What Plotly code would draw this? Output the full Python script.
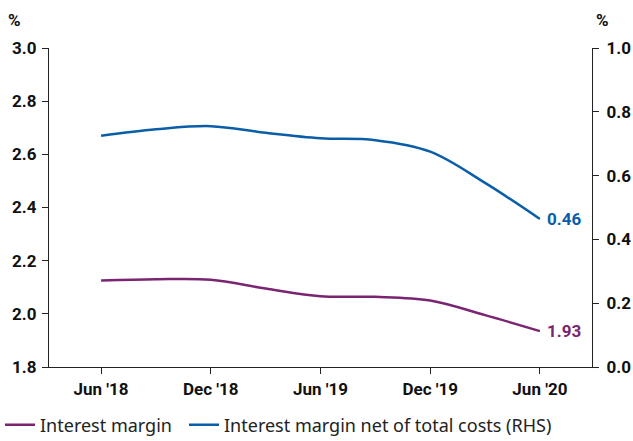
import plotly.graph_objects as go

quarters = ["Jun '18", "Sep '18", "Dec '18", "Mar '19", "Jun '19",
            "Sep '19", "Dec '19", "Mar '20", "Jun '20"]
interest_margin = [2.125, 2.130, 2.128, 2.095, 2.066, 2.064, 2.050, 1.995, 1.935]
margin_net_costs = [0.725, 0.745, 0.755, 0.734, 0.717, 0.711, 0.675, 0.577, 0.464]
series_names = ["Interest margin", "Interest margin net of total costs (RHS)"]
end_labels = ["1.93", "0.46"]
tick_labels = ["Jun '18", "Dec '18", "Jun '19", "Dec '19", "Jun '20"]
left_ticks = [1.8, 2.0, 2.2, 2.4, 2.6, 2.8, 3.0]
right_ticks = [0.0, 0.2, 0.4, 0.6, 0.8, 1.0]

PURPLE = "#7b2572"
BLUE = "#0a5ea8"
FONT = "Roboto"
LEGEND_FONT = "Noto Sans"

fig = go.Figure()
fig.add_trace(go.Scatter(
    x=quarters, y=interest_margin, name=series_names[0], mode="lines", legend="legend",
    line=dict(color=PURPLE, width=2.5, shape="spline", smoothing=1.0),
))
fig.add_trace(go.Scatter(
    x=quarters, y=margin_net_costs, name=series_names[1], legend="legend2",
    mode="lines", yaxis="y2",
    line=dict(color=BLUE, width=2.5, shape="spline", smoothing=1.0),
))

fig.add_annotation(x=quarters[-1], y=interest_margin[-1], text=end_labels[0],
                   xanchor="left", xshift=5, showarrow=False,
                   font=dict(family=FONT, size=17, color=PURPLE, weight="bold"))
fig.add_annotation(x=quarters[-1], y=margin_net_costs[-1], yref="y2", text=end_labels[1],
                   xanchor="left", xshift=5, showarrow=False,
                   font=dict(family=FONT, size=17, color=BLUE, weight="bold"))
fig.add_annotation(xref="paper", yref="paper", x=(15 - 49) / 543, y=1 + (48 - 20) / 319,
                   text="%", showarrow=False, xanchor="center", yanchor="middle",
                   font=dict(family=FONT, size=17, color="#111", weight="bold"))
fig.add_annotation(xref="paper", yref="paper", x=(602 - 49) / 543, y=1 + (48 - 20) / 319,
                   text="%", showarrow=False, xanchor="center", yanchor="middle",
                   font=dict(family=FONT, size=17, color="#111", weight="bold"))

axis_common = dict(showgrid=False, zeroline=False, showline=True, linecolor="#222",
                   linewidth=1.2, ticks="outside", ticklen=6, tickcolor="#222",
                   tickfont=dict(family=FONT, size=17, color="#111", weight="bold"))

legend_common = dict(orientation="h", xref="container", xanchor="left",
                     yref="container", y=0.036, yanchor="middle",
                     font=dict(family=LEGEND_FONT, size=18, color="#222"),
                     itemwidth=30, bgcolor="rgba(0,0,0,0)")

fig.update_layout(
    width=633, height=441,
    margin=dict(l=49, r=41, t=48, b=74, autoexpand=False),
    paper_bgcolor="white", plot_bgcolor="white",
    font=dict(family=FONT, size=16, color="#222"),
    xaxis=dict(type="category", range=[-0.95, 8.95], tickvals=tick_labels,
               ticktext=tick_labels, **axis_common),
    yaxis=dict(range=[1.8, 3.0], tickvals=left_ticks, ticklabelstandoff=2,
               ticktext=[f"{v:.1f}" for v in left_ticks], **axis_common),
    yaxis2=dict(range=[0.0, 1.0], overlaying="y", side="right", tickvals=right_ticks,
                ticklabelstandoff=4,
                ticktext=[f"{v:.1f}" for v in right_ticks], **axis_common),
    showlegend=True,
    legend=dict(x=0.0, **legend_common),
    legend2=dict(x=184 / 633, **legend_common),
)

fig.write_html("out.html")
